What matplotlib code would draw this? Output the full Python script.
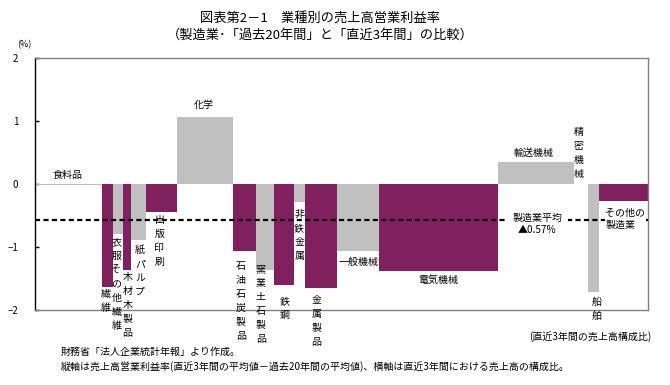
import matplotlib
matplotlib.use("Agg")
import matplotlib.pyplot as plt
import numpy as np

plt.rcParams['font.family'] = ['Noto Sans CJK JP', 'DejaVu Sans']

industries = ['食料品', '繊維', '衣服その他繊維', '木材木製品', '紙パルプ', '出版印刷', '化学',
              '石油石炭製品', '窯業土石製品', '鉄鋼', '非鉄金属', '金属製品', '一般機械',
              '電気機械', '輸送機械', '精密機械', '船舶', 'その他の製造業']
# share of sales in the latest 3 years (%), horizontal axis
shares = [10.9, 1.8, 1.7, 1.3, 2.4, 5.1, 9.1, 3.8, 3.0, 3.2, 1.8, 5.2, 6.9, 19.4, 12.4, 2.3, 1.8, 8.0]
# operating profit margin difference (latest 3y avg - 20y avg), %pt
values = [-0.015, -1.63, -0.79, -1.36, -0.89, -0.45, 1.06, -1.06, -1.37, -1.61, -0.28, -1.65,
          -1.06, -1.38, 0.35, 0.0, -1.72, -0.265]
mfg_average = -0.57
yticks = [-2, -1, 0, 1, 2]

PURPLE = '#80205F'
GRAY = '#C0C0C0'
colors = [GRAY if i % 2 == 0 else PURPLE for i in range(len(values))]

fig = plt.figure(figsize=(6.7, 3.85), dpi=100)
ax = fig.add_axes([35/670, 1-310/385, (648-35)/670, (310-58)/385])

shares_arr = np.array(shares)
lefts = np.concatenate([[0], np.cumsum(shares_arr)[:-1]])
ax.bar(lefts, values, width=shares_arr, align='edge', color=colors, linewidth=0, zorder=2)

ax.set_xlim(0, float(np.sum(shares_arr)))
ax.set_ylim(-2, 2)
ax.set_xticks([])
ax.set_yticks(yticks)
ax.set_yticklabels(['−2', '−1', '0', '1', '2'], fontsize=7)
ax.tick_params(axis='y', direction='in', length=3, width=1, pad=12, color='black')
for s in ['top', 'right', 'bottom']:
    ax.spines[s].set_color('#808080')
    ax.spines[s].set_linewidth(1)
ax.spines['left'].set_color('black')
ax.spines['left'].set_linewidth(1)

# manufacturing average dashed line
ln = ax.axhline(mfg_average, color='black', linewidth=1.6, zorder=3)
ln.set_dashes((2.3, 1.5))

def px2x(px):
    return (px - 35) / 613 * 100

def py2y(py):
    return (184 - py) / 63

fs = 7.2
# label layout: (text, x px, y px, orientation)
label_layout = [
    ('食料品', 68, 175, 'h'),
    ('繊維', 105.5, 289, 'v'),
    ('衣服その他繊維', 116.5, 237, 'v'),
    ('木材木製品', 127.5, 272, 'v'),
    ('紙パルプ', 140, 245, 'v'),
    ('出版印刷', 159.5, 215, 'v'),
    ('化学', 203.5, 105, 'h'),
    ('石油石炭製品', 241, 261, 'v'),
    ('窯業土石製品', 261, 264, 'v'),
    ('鉄鋼', 285.5, 296, 'v'),
    ('非鉄金属', 299.5, 209, 'v'),
    ('金属製品', 316.5, 295, 'v'),
    ('一般機械', 359, 262, 'h'),
    ('電気機械', 439, 280, 'h'),
    ('輸送機械', 534, 153, 'h'),
    ('精密機械', 579, 127, 'v'),
    ('船舶', 597, 297, 'v'),
]
for text, px, py, orient in label_layout:
    if orient == 'h':
        ax.text(px2x(px), py2y(py), text, fontsize=fs, ha='center', va='center', zorder=5)
    else:
        ax.text(px2x(px), py2y(py), '\n'.join(text), fontsize=fs, ha='center', va='top',
                linespacing=1.5, zorder=5)

ax.text(px2x(538), py2y(224), '製造業平均\n▲0.57%', fontsize=fs, ha='center', va='center',
        linespacing=1.3, zorder=5,
        bbox=dict(facecolor='white', edgecolor='none', pad=4))
ax.text(px2x(606), py2y(219), 'その他の\n製造業', fontsize=fs, ha='left', va='center',
        linespacing=1.3, zorder=5,
        bbox=dict(facecolor='white', edgecolor='none', pad=0.5))

fig.text(320/670, 1-18/385, '図表第2－1　業種別の売上高営業利益率', fontsize=9.5, ha='center', va='center')
fig.text(320/670, 1-35/385, '（製造業･「過去20年間」と「直近3年間」の比較）', fontsize=9.5, ha='center', va='center')
fig.text(24/670, 1-45/385, '(%)', fontsize=6.5, ha='center', va='center')
fig.text(651/670, 1-337/385, '(直近3年間の売上高構成比)', fontsize=fs, ha='right', va='center')
fig.text(61/670, 1-352/385, '財務省「法人企業統計年報」より作成。', fontsize=fs, ha='left', va='center')
fig.text(61/670, 1-367/385, '縦軸は売上高営業利益率(直近3年間の平均値－過去20年間の平均値)、横軸は直近3年間における売上高の構成比。',
         fontsize=fs, ha='left', va='center')

fig.savefig('out.png', dpi=100)
